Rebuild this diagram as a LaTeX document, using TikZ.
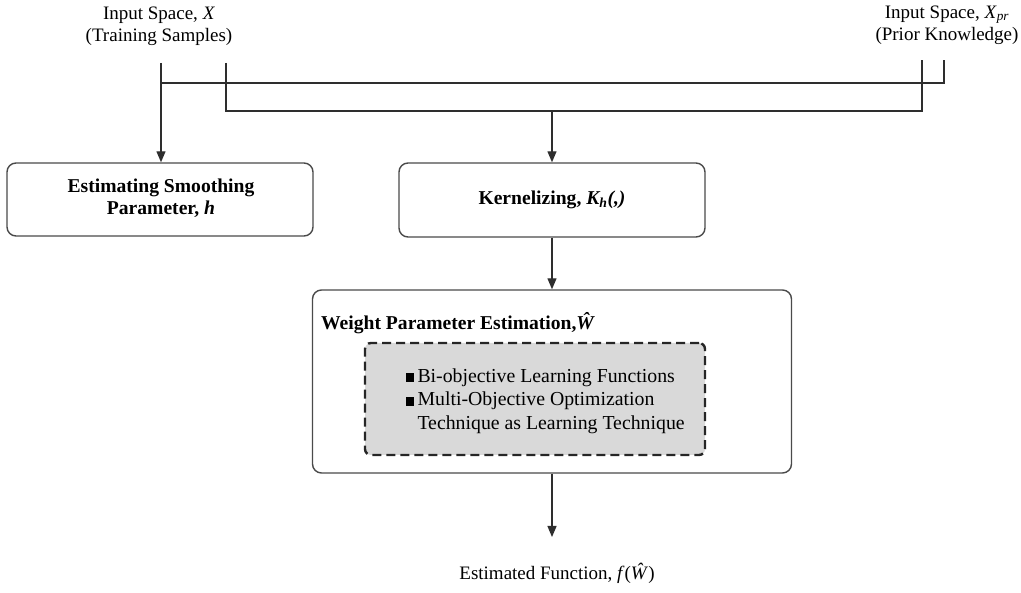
\documentclass[tikz,border=0pt]{standalone}
\usepackage{fontspec}
\setmainfont{Liberation Serif}
\usetikzlibrary{arrows.meta}
\definecolor{linec}{HTML}{2E2E2E}
\definecolor{boxc}{HTML}{4A4A4A}
\definecolor{graybg}{HTML}{D9D9D9}
\tikzset{
  txt/.style={font=\fontsize{19}{22}\selectfont, inner sep=0pt, align=center, text=black},
  btxt/.style={txt, font=\fontsize{19.6}{22}\selectfont\bfseries},
  rbox/.style={draw=boxc, line width=1.4pt, rounded corners=9pt},
  dbox/.style={draw=black!85, fill=graybg, line width=2.4pt, dash pattern=on 9pt off 5pt, rounded corners=6pt},
  conn/.style={draw=linec, line width=1.3pt},
  arr/.style={conn, -{Triangle[length=11pt,width=9pt]}},
}
\newcommand{\sqbul}{\rule[0pt]{8pt}{9pt}\,}
\begin{document}
\begin{tikzpicture}[x=1pt,y=-1pt]
\useasboundingbox (0,0) rectangle (1021,593);

% input texts
\node[txt] (inX) at (159,26) {Input Space, \textit{X}\\(Training Samples)};
\node[txt] (inP) at (947,25) {Input Space, \textit{X}\textsubscript{\textit{pr}}\\(Prior Knowledge)};

% boxes
\node[rbox, minimum width=306pt, minimum height=73pt] (est) at (160,199.5) {};
\node[btxt] (estT) at (161,198) {Estimating Smoothing\\Parameter, \textit{h}};

\node[rbox, minimum width=306pt, minimum height=74pt] (ker) at (552,200) {};
\node[btxt] (kerT) at (552,200) {Kernelizing, \textit{K\textsubscript{h}}\textit{(,)}};

\node[rbox, minimum width=479pt, minimum height=183pt] (wgt) at (552,381.5) {};
\node[btxt, anchor=west] (wgtT) at (321,323) {Weight Parameter Estimation,\textit{\^{W}}};

\node[dbox, minimum width=340pt, minimum height=112pt] (dsh) at (535,399) {};
\node[txt, align=left, anchor=west, font=\fontsize{19.8}{23.5}\selectfont] (bul) at (406,401)
  {\sqbul Bi-objective Learning Functions\\
   \sqbul Multi-Objective Optimization\\
   \hphantom{\sqbul}Technique as Learning Technique};

\node[txt] (out) at (557,573) {Estimated Function, \textit{f}(\textit{\^{W}})};

% connector points
\coordinate (xa) at (161,63);
\coordinate (xb) at (226,63);
\coordinate (pa) at (922,60);
\coordinate (pb) at (944,60);
\coordinate (j1) at (161,83);
\coordinate (j2) at (944,83);
\coordinate (k1) at (226,111);
\coordinate (k2) at (922,111);
\coordinate (km) at (552,111);
\coordinate (ob) at (552,537);

\draw[arr] (xa) -- (est.north -| xa);
\draw[conn] (j1) -- (j2) -- (pb);
\draw[conn] (xb) -- (k1) -- (k2) -- (pa);
\draw[arr] (km) -- (ker.north);
\draw[arr] (ker.south) -- (wgt.north);
\draw[arr] (wgt.south) -- (ob);
\end{tikzpicture}
\end{document}
